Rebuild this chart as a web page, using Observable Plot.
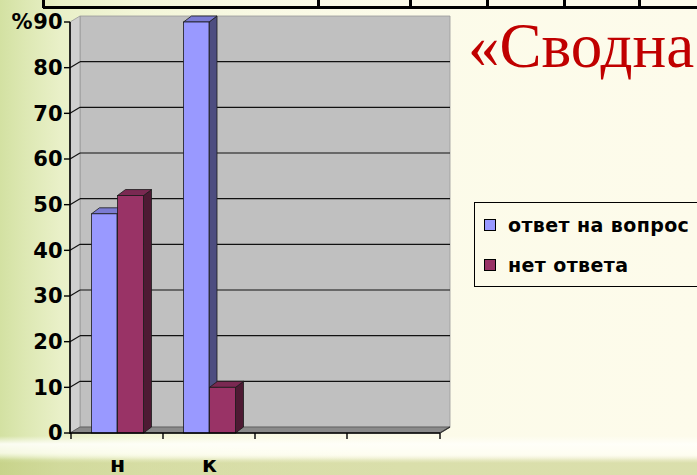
<!DOCTYPE html>
<html>
<head>
<meta charset="utf-8">
<script src="https://cdn.jsdelivr.net/npm/d3@7"></script>
<script src="https://cdn.jsdelivr.net/npm/@observablehq/plot@0.6"></script>
<style>
  html, body { margin: 0; padding: 0; }
  body {
    width: 697px; height: 475px; overflow: hidden; position: relative;
    background-color: #fbfae8;
    background-image:
      linear-gradient(to bottom, rgba(255,255,250,0) 0px, rgba(255,255,250,0) 436px, rgba(255,255,250,0.9) 444px, rgba(255,255,245,0.75) 453px, rgba(255,255,245,0) 460px),
      linear-gradient(to bottom, rgba(190,200,120,0) 455px, rgba(190,200,120,0.55) 463px, rgba(190,200,120,0.55) 475px),
      linear-gradient(to right, #d3e1a2 0px, #dde8b3 25px, #e9f0c8 60px, #f3f6d8 140px, #f9f9e4 260px, #fcfbe9 400px, #fdfbeb 697px);
  }
  #chart { position: absolute; left: 0; top: 0; }
  .hline { position: absolute; background: #000; }
  #title {
    position: absolute; left: 468px; top: 15px; white-space: nowrap;
    font-family: "Liberation Serif", serif; font-size: 63px; line-height: 63px; color: #c00000;
  }
  #legend {
    position: absolute; left: 474px; top: 202px; width: 260px; height: 85px;
    border: 1px solid #000; box-sizing: border-box;
    font-family: "DejaVu Sans", sans-serif; font-weight: bold; font-size: 19px; letter-spacing: 0.4px; color: #000;
  }
  .sw { position: absolute; width: 12px; height: 12px; border: 1px solid #000; box-sizing: border-box; }
  .lt { position: absolute; left: 33px; line-height: 22px; white-space: nowrap; }
</style>
</head>
<body>
<div id="chart"></div>
<div class="hline" style="left:43px; top:6px; width:660px; height:2.5px;"></div>
<div class="hline" style="left:42px; top:0px; width:2.5px; height:8px;"></div>
<div class="hline" style="left:317px; top:0px; width:2.5px; height:8px;"></div>
<div class="hline" style="left:409px; top:0px; width:2.5px; height:8px;"></div>
<div class="hline" style="left:486px; top:0px; width:2.5px; height:8px;"></div>
<div class="hline" style="left:563px; top:0px; width:2.5px; height:8px;"></div>
<div class="hline" style="left:638px; top:0px; width:2.5px; height:8px;"></div>
<div id="title"></div>
<div id="legend"></div>
<script>
// ---- data ----
const categories = ["н", "к", "c3", "c4"];
const categoryLabels = ["н", "к", "", ""];
const seriesNames = ["ответ на вопрос", "нет ответа"];
const answered = [48, 90, null, null];
const noAnswer = [52, 10, null, null];
const yTicks = [0, 10, 20, 30, 40, 50, 60, 70, 80, 90];
const yUnit = "%";
const titleText = "«Сводна";

// ---- styles ----
const colors = {
  front: ["#9999ff", "#993366"],
  top:   ["#7b7bd2", "#7a2952"],
  side:  ["#4d4d80", "#4d1a33"]
};
const insets = [[20.5, 46], [46.5, 19.5]]; // [left, right] px inside each band
const WX = 10, WY = -6;   // wall depth
const BX = 8, BY = -6;    // bar depth

const seriesValues = [answered, noAnswer];
const rows = [];
seriesValues.forEach((vals, s) => vals.forEach((v, i) => {
  if (v != null) rows.push({category: categories[i], series: s, value: v});
}));
const catRows = categories.map((c, i) => ({category: c, label: categoryLabels[i]}));

const NS = "http://www.w3.org/2000/svg";
function node(tag, attrs) {
  const e = document.createElementNS(NS, tag);
  for (const k in attrs) e.setAttribute(k, attrs[k]);
  return e;
}
function poly(g, pts, fill, stroke, sw = 0.8) {
  g.appendChild(node("polygon", {points: pts.map(p => p.join(",")).join(" "), fill, stroke, "stroke-width": sw, "stroke-linejoin": "round"}));
}
function seg(g, x1, y1, x2, y2, stroke = "#000", sw = 1) {
  g.appendChild(node("line", {x1, y1, x2, y2, stroke, "stroke-width": sw}));
}

const yMax = yTicks[yTicks.length - 1];

function walls(index, scales, values, dims) {
  const {y} = scales;
  const L = dims.marginLeft, R = dims.width - dims.marginRight;
  const y0 = y(0), yT = y(yMax);
  const g = node("g", {});
  poly(g, [[L + WX, yT + WY], [R + WX, yT + WY], [R + WX, y0 + WY], [L + WX, y0 + WY]], "#c0c0c0", "#9a9a9a");
  poly(g, [[L, yT], [L + WX, yT + WY], [L + WX, y0 + WY], [L, y0]], "#d0d0d0", "#9a9a9a");
  poly(g, [[L, y0], [L + WX, y0 + WY], [R + WX, y0 + WY], [R, y0]], "#8a8a8a", "#555");
  for (const t of yTicks) {
    if (t <= 0 || t >= yMax) continue;
    seg(g, L + WX, y(t) + WY, R + WX, y(t) + WY, "#111", 1.1);
    seg(g, L, y(t), L + WX, y(t) + WY, "#111", 1.1);
  }
  return g;
}

function barFaces(index, scales, values, dims) {
  const {x, y} = scales;
  const bw = x.bandwidth ? x.bandwidth() : (x(categories[1]) - x(categories[0]));
  const g = node("g", {});
  for (let s = 0; s < seriesValues.length; s++) {
    for (const r of rows.filter(d => d.series === s)) {
      const x0 = x(r.category) + insets[s][0];
      const x1 = x(r.category) + bw - insets[s][1];
      const yv = y(r.value), yb = y(0);
      poly(g, [[x1, yb], [x1, yv], [x1 + BX, yv + BY], [x1 + BX, yb + BY]], colors.side[s], "#1a1a1a");
      poly(g, [[x0, yv], [x1, yv], [x1 + BX, yv + BY], [x0 + BX, yv + BY]], colors.top[s], "#1a1a1a");
    }
  }
  return g;
}

function axes(index, scales, values, dims) {
  const {x, y} = scales;
  const L = dims.marginLeft, R = dims.width - dims.marginRight;
  const y0 = y(0), yT = y(yMax);
  const g = node("g", {});
  seg(g, L, yT, L, y0 + 1, "#000", 1.6);
  for (const t of yTicks) seg(g, L - 6, y(t), L, y(t), "#000", 1.4);
  seg(g, L, y0, R, y0, "#000", 1.6);
  const bounds = categories.map(c => x(c)).concat([R]);
  for (const b of bounds) seg(g, b, y0, b, y0 + 6, "#000", 1.4);
  seg(g, R, y0, R + WX, y0 + WY, "#333", 1.2);
  return g;
}

const marks = [
  walls,
  barFaces,
  ...seriesValues.map((_, s) => Plot.barY(rows.filter(d => d.series === s), {
    x: "category", y: "value", fill: colors.front[s], stroke: "#1a1a1a", strokeWidth: 0.8,
    insetLeft: insets[s][0], insetRight: insets[s][1]
  })),
  axes,
  Plot.text(yTicks, {y: d => d, text: d => String(d), frameAnchor: "left", textAnchor: "end", dx: -8,
    fontSize: 21, fontWeight: "bold", fill: "#000"}),
  Plot.text([yMax], {y: d => d, text: () => yUnit, frameAnchor: "left", textAnchor: "end", dx: -38,
    fontSize: 21, fontWeight: "bold", fill: "#000"}),
  Plot.text(catRows, {x: "category", text: "label", frameAnchor: "bottom", dy: 38,
    fontSize: 22, fontWeight: "bold", fill: "#000"})
];

const chart = Plot.plot({
  width: 697, height: 475,
  marginLeft: 70, marginRight: 257, marginTop: 22, marginBottom: 42,
  x: {domain: categories, padding: 0, axis: null},
  y: {domain: [0, yMax], axis: null},
  style: {background: "transparent", overflow: "visible", fontFamily: "DejaVu Sans"},
  marks
});
document.getElementById("chart").appendChild(chart);

document.getElementById("title").textContent = titleText;

const legend = document.getElementById("legend");
const rowTops = [15, 55];
seriesNames.forEach((name, s) => {
  const sw = document.createElement("div");
  sw.className = "sw";
  sw.style.left = "9px";
  sw.style.top = (rowTops[s] + 1) + "px";
  sw.style.background = colors.front[s];
  legend.appendChild(sw);
  const t = document.createElement("div");
  t.className = "lt";
  t.style.top = (rowTops[s] - 4) + "px";
  t.textContent = name;
  legend.appendChild(t);
});
</script>
</body>
</html>
